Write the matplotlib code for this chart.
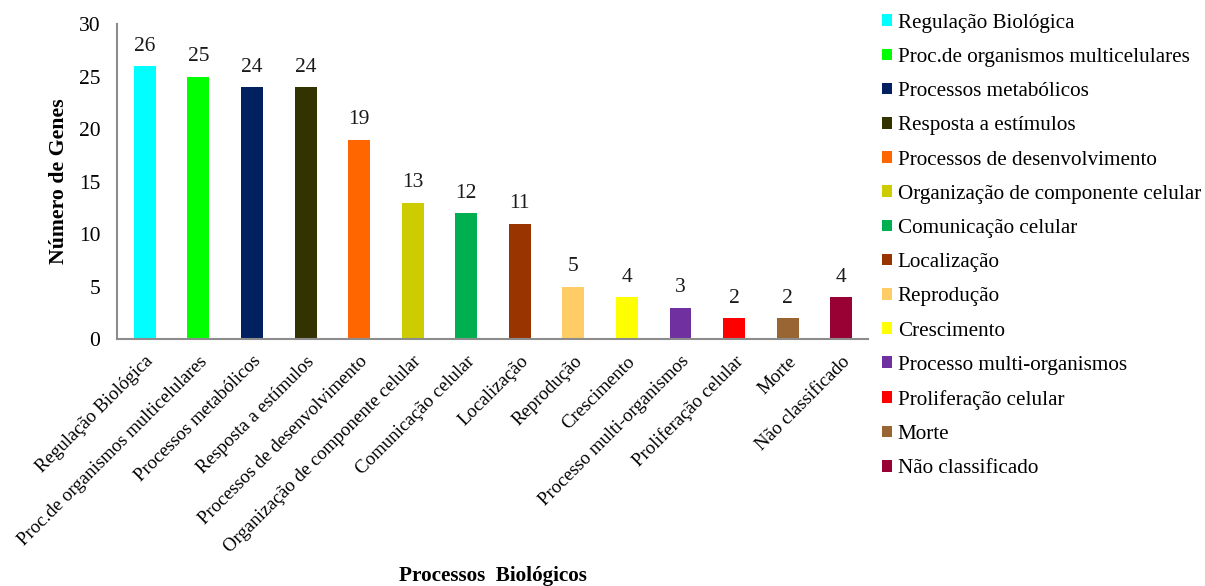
import matplotlib
matplotlib.use("Agg")
import matplotlib.pyplot as plt
from matplotlib.patches import Patch

plt.rcParams['font.family'] = ['Liberation Serif', 'DejaVu Serif']

categories = [
    "Regulação Biológica",
    "Proc.de organismos multicelulares",
    "Processos metabólicos",
    "Resposta a estímulos",
    "Processos de desenvolvimento",
    "Organização de componente celular",
    "Comunicação celular",
    "Localização",
    "Reprodução",
    "Crescimento",
    "Processo multi-organismos",
    "Proliferação celular",
    "Morte",
    "Não classificado",
]
genes = [26, 25, 24, 24, 19, 13, 12, 11, 5, 4, 3, 2, 2, 4]
colors = [
    "#00FFFF", "#00FF00", "#002060", "#333300", "#FF6600", "#CCCC00",
    "#00B050", "#993300", "#FFCC66", "#FFFF00", "#7030A0", "#FF0000",
    "#996633", "#990033",
]
y_ticks = [0, 5, 10, 15, 20, 25, 30]

fig = plt.figure(figsize=(12.05, 5.86), dpi=100)
ax = fig.add_axes([0.0971, 0.4215, 0.6232, 0.5375])

x = list(range(len(categories)))
ax.bar(x, genes, width=0.41, color=colors)
for xi, v in zip(x, genes):
    ax.text(xi, v + 1.45, str(v), ha="center", va="baseline", fontsize=15.5, color="#1a1a1a")

ax.set_xlim(-0.52, len(categories) - 0.5)
ax.set_ylim(0, 30)
ax.set_yticks(y_ticks)
ax.set_yticklabels([str(t) for t in y_ticks], fontsize=15.5)
ax.set_xticks(x)
ax.set_xticklabels(categories, rotation=45, ha="right", rotation_mode="anchor", fontsize=13.6)
ax.tick_params(axis="y", length=0, pad=12)
ax.tick_params(axis="x", length=0, pad=10)

for side in ("top", "right"):
    ax.spines[side].set_visible(False)
for side in ("left", "bottom"):
    ax.spines[side].set_color("#8c8c8c")
    ax.spines[side].set_linewidth(1.5)

ax.set_ylabel("Número de Genes", fontsize=15.7, fontweight="bold", labelpad=7)
fig.text(0.4087, 0.017, "Processos  Biológicos", ha="center", va="center",
         fontsize=15.2, fontweight="bold")

handles = [Patch(facecolor=c, edgecolor="none") for c in colors]
fig.legend(handles, categories, loc="upper left", bbox_to_anchor=(0.7208, 1.0),
           frameon=False, fontsize=15.2, handlelength=0.48, handleheight=0.48,
           handletextpad=0.25, labelspacing=0.72, borderaxespad=0.25)

fig.savefig("out.png", dpi=100)
